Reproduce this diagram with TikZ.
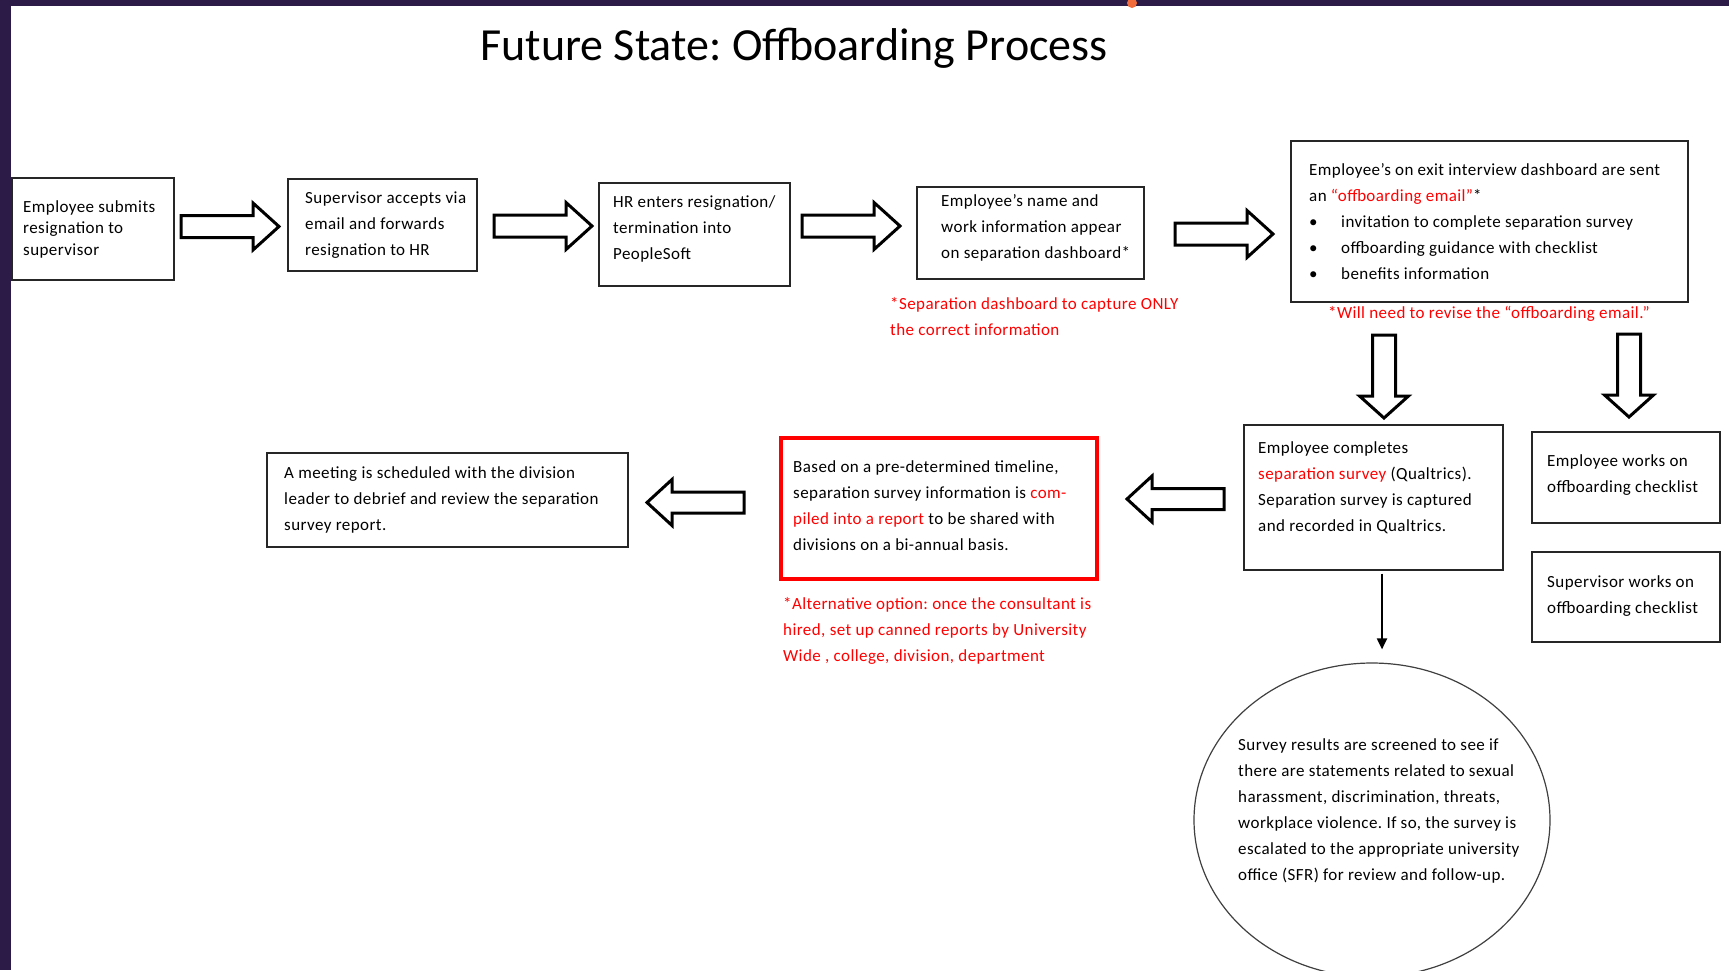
\documentclass[tikz,border=0pt]{standalone}
\usepackage{fontspec}
\setmainfont{Carlito}
\newfontfamily\bodyfont{Carlito}[LetterSpace=2.5]
\usetikzlibrary{arrows.meta,shapes.geometric,calc}
\definecolor{framepurple}{HTML}{2D1B47}
\definecolor{rtext}{HTML}{FF0000}
\definecolor{dotorange}{HTML}{F26B3A}
\frenchspacing
\begin{document}
\begin{tikzpicture}[x=1pt,y=-1pt,
  box/.style={draw=black!85, line width=1.3pt, fill=white, inner sep=0pt},
  txt/.style={inner sep=0pt, align=left, anchor=west, font=\bodyfont\fontsize{17}{26}\selectfont},
  note/.style={txt, text=rtext},
  blk/.style={draw=black, line width=3pt, fill=white, line join=miter},
  rarrow/.pic={\draw[blk] (-49,-11) -- (23,-11) -- (23,-23.5) -- (49,0) -- (23,23.5) -- (23,11) -- (-49,11) -- cycle;},
  larrow/.pic={\draw[blk] (48.5,-10.5) -- (-23.5,-10.5) -- (-23.5,-23) -- (-48.5,0) -- (-23.5,23) -- (-23.5,10.5) -- (48.5,10.5) -- cycle;},
  darrow/.pic={\draw[blk] (-11.5,-41.5) -- (11.5,-41.5) -- (11.5,19.5) -- (24.5,19.5) -- (0,41.5) -- (-24.5,19.5) -- (-11.5,19.5) -- cycle;},
  thinarrow/.style={line width=2pt, -{Triangle[width=10pt,length=11pt]}},
]
\useasboundingbox (0,0) rectangle (1729,970);
\fill[white] (0,0) rectangle (1729,970);
\fill[framepurple] (0,0) rectangle (11,970);
\fill[framepurple] (0,0) rectangle (1729,6);
\fill[dotorange] (1132,3) circle (5);

\node[font=\fontsize{46}{50}\selectfont, anchor=base, inner sep=0pt] (title) at (794,60) {Future State: Offboarding Process};

% top row
\node[box, minimum width=162pt, minimum height=102pt] (b1) at (93,229) {};
\node[txt, font=\bodyfont\fontsize{17}{21.5}\selectfont] (t1) at (23,229) {Employee submits\\resignation to\\supervisor};

\node[box, minimum width=189pt, minimum height=92pt] (b2) at (382.5,225) {};
\node[txt] (t2) at (305,225) {Supervisor accepts via\\email and forwards\\resignation to HR};

\node[box, minimum width=191pt, minimum height=103pt] (b3) at (694.5,234.5) {};
\node[txt] (t3) at (613,229) {HR enters resignation/\\termination into\\PeopleSoft};

\node[box, minimum width=227pt, minimum height=92pt] (b4) at (1030.5,233) {};
\node[txt] (t4) at (941,228) {Employee’s name and\\work information appear\\on separation dashboard*};
\node[note] (n4) at (890,317) {*Separation dashboard to capture ONLY\\the correct information};

\node[box, minimum width=397pt, minimum height=161pt] (b5) at (1489.5,221.5) {};
\node[txt] (t5) at (1309,221.5) {Employee’s on exit interview dashboard are sent\\
an {\color{rtext}“offboarding email”}*\\
\makebox[32pt][l]{•}invitation to complete separation survey\\
\makebox[32pt][l]{•}offboarding guidance with checklist\\
\makebox[32pt][l]{•}benefits information};
\node[note, anchor=center] (n5) at (1489,314) {*Will need to revise the “offboarding email.”};

\pic at (230,226.5) {rarrow};
\pic at (543,226) {rarrow};
\pic at (851,226) {rarrow};
\pic at (1224,234) {rarrow};

% right column
\pic at (1384,376.5) {darrow};
\pic at (1629,375.5) {darrow};

\node[box, minimum width=259pt, minimum height=145pt] (b6) at (1373.5,497.5) {};
\node[txt] (t6) at (1258,488) {Employee completes\\{\color{rtext}separation survey} (Qualtrics).\\Separation survey is captured\\and recorded in Qualtrics.};

\node[box, minimum width=188pt, minimum height=91pt] (b7) at (1626,477.5) {};
\node[txt] (t7) at (1547,475) {Employee works on\\offboarding checklist};

\node[box, minimum width=188pt, minimum height=90pt] (b8) at (1626,597) {};
\node[txt] (t8) at (1547,596) {Supervisor works on\\offboarding checklist};

\node[ellipse, draw=black!75, line width=1.2pt, minimum width=356pt, minimum height=314pt, inner sep=0pt] (ell) at (1372,820) {};
\node[txt] (tell) at (1238,811) {Survey results are screened to see if\\there are statements related to sexual\\harassment, discrimination, threats,\\workplace violence. If so, the survey is\\escalated to the appropriate university\\office (SFR) for review and follow-up.};

\draw[thinarrow] ($(b6.south)+(8.5,3)$) -- ($(ell.north)+(10,-13)$);

% bottom-left row
\pic at (1175.5,499) {larrow};
\node[box, draw=red, line width=3.5pt, minimum width=316pt, minimum height=141pt] (b9) at (939,508.5) {};
\node[txt] (t9) at (793,506) {Based on a pre-determined timeline,\\separation survey information is {\color{rtext}com-}\\{\color{rtext}piled into a report} to be shared with\\divisions on a bi-annual basis.};
\node[note] (n9) at (783,631) {*Alternative option: once the consultant is\\hired, set up canned reports by University\\Wide , college, division, department};

\pic at (695.5,502.5) {larrow};
\node[box, minimum width=361pt, minimum height=94pt] (b10) at (447.5,500) {};
\node[txt] (t10) at (284,500) {A meeting is scheduled with the division\\leader to debrief and review the separation\\survey report.};
\end{tikzpicture}
\end{document}
